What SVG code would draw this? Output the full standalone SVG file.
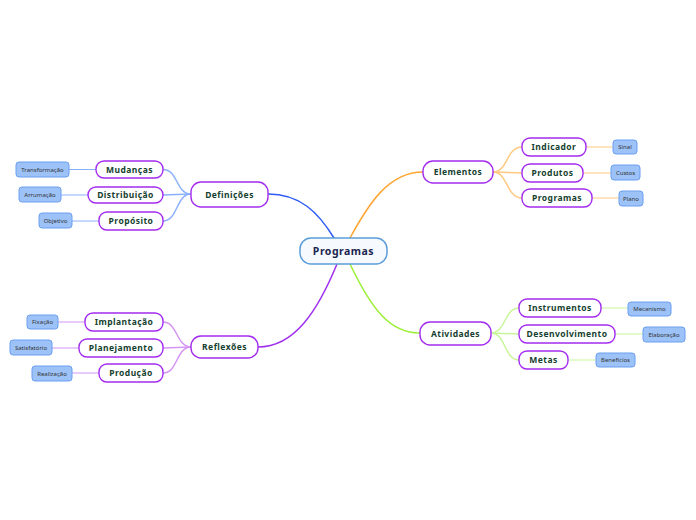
<svg xmlns="http://www.w3.org/2000/svg" width="696" height="520" viewBox="0 0 696 520">
<style>
.n rect{fill:#fff;stroke:#a32cf0;stroke-width:1.4}
.n text{font-family:"Noto Sans","Open Sans",sans-serif;font-weight:bold;font-size:8.5px;fill:#163f30;text-anchor:middle;letter-spacing:0.45px}
.l rect{fill:#9cc2f7;stroke:#6a9ff0;stroke-width:1}
.l text{font-family:"Noto Sans","Open Sans",sans-serif;font-size:6px;fill:#333;text-anchor:middle}
.c path{fill:none;stroke-width:1.5}
.c line{stroke-width:1}
</style>
<rect width="696" height="520" fill="#fff"/>
<g class="c" id="connectors">
<path d="M334,238 C318,212 300,194 268,194" stroke="#2d5cf5" stroke-width="1.8"/>
<path d="M350,238 C368,205 388,172 423,172" stroke="#ffa533" stroke-width="1.8"/>
<path d="M337,264 C318,310 295,347 258,347" stroke="#a02ff0" stroke-width="1.8"/>
<path d="M350,264 C372,310 390,333 420,333" stroke="#9af033" stroke-width="1.8"/>
<g stroke="#8ab0fb" stroke-width="1" fill="none">
<path d="M191,194 C176,194 178,169.5 163,169.5"/>
<path d="M191,194 L163,195"/>
<path d="M191,194 C176,194 178,221 163,221"/>
<line x1="96" y1="169.5" x2="69" y2="169.5"/>
<line x1="88" y1="195" x2="61" y2="195"/>
<line x1="99" y1="221" x2="72" y2="221"/>
</g>
<g stroke="#ffc980" stroke-width="1" fill="none">
<path d="M493,172 C508,172 506,147 522,147"/>
<path d="M493,172 L522,173"/>
<path d="M493,172 C508,172 506,198 522,198"/>
<line x1="586" y1="147" x2="613" y2="147"/>
<line x1="583" y1="173" x2="611" y2="173"/>
<line x1="592" y1="198" x2="619" y2="198"/>
</g>
<g stroke="#d595f5" stroke-width="1" fill="none">
<path d="M191,347 C176,347 178,322 163,322"/>
<path d="M191,347 L163,348"/>
<path d="M191,347 C176,347 178,373 163,373"/>
<line x1="85" y1="322" x2="58" y2="322"/>
<line x1="79" y1="348" x2="52" y2="348"/>
<line x1="99" y1="373" x2="72" y2="373"/>
</g>
<g stroke="#c8f59a" stroke-width="1" fill="none">
<path d="M491,333 C506,333 504,308 519,308"/>
<path d="M491,333 L519,334"/>
<path d="M491,333 C506,333 504,360 519,360"/>
<line x1="601" y1="308" x2="628" y2="308"/>
<line x1="615" y1="334" x2="643" y2="334"/>
<line x1="568" y1="360" x2="596" y2="360"/>
</g>
</g>
<g id="central">
<rect x="300" y="238" width="87" height="26" rx="11" fill="#f6faff" stroke="#5b9dd8" stroke-width="1.5"/>
<text x="343.5" y="254.5" font-family="'Noto Sans','Open Sans',sans-serif" font-weight="bold" font-size="10.5" fill="#1b2650" text-anchor="middle" letter-spacing="0.5">Programas</text>
</g>
<g class="n" id="definicoes"><rect x="191" y="182" width="77" height="25" rx="10"/><text x="229.5" y="197.5">Definições</text></g>
<g class="n" id="mudancas"><rect x="96" y="161" width="67" height="17" rx="8"/><text x="129.5" y="172.5">Mudanças</text></g>
<g class="n" id="distribuicao"><rect x="88" y="187" width="75" height="16" rx="8"/><text x="125.5" y="198">Distribuição</text></g>
<g class="n" id="proposito"><rect x="99" y="212" width="64" height="18" rx="8"/><text x="131" y="224">Propósito</text></g>
<g class="l" id="transformacao"><rect x="16" y="162" width="53" height="15" rx="3"/><text x="42.5" y="171.8">Transformação</text></g>
<g class="l" id="arrumacao"><rect x="19" y="187" width="42" height="15" rx="3"/><text x="40" y="196.8">Arrumação</text></g>
<g class="l" id="objetivo"><rect x="39" y="213" width="33" height="15" rx="3"/><text x="55.5" y="222.8">Objetivo</text></g>
<g class="n" id="elementos"><rect x="423" y="161" width="70" height="22" rx="10"/><text x="458" y="175">Elementos</text></g>
<g class="n" id="indicador"><rect x="522" y="138" width="64" height="18" rx="8"/><text x="554" y="150">Indicador</text></g>
<g class="n" id="produtos"><rect x="522" y="164" width="61" height="18" rx="8"/><text x="552.5" y="176">Produtos</text></g>
<g class="n" id="programas2"><rect x="522" y="189" width="70" height="18" rx="8"/><text x="557" y="201">Programas</text></g>
<g class="l" id="sinal"><rect x="613" y="140" width="24" height="14" rx="3"/><text x="625" y="149.3">Sinal</text></g>
<g class="l" id="custos"><rect x="611" y="165" width="29" height="15" rx="3"/><text x="625.5" y="174.8">Custos</text></g>
<g class="l" id="plano"><rect x="619" y="191" width="24" height="15" rx="3"/><text x="631" y="200.8">Plano</text></g>
<g class="n" id="reflexoes"><rect x="191" y="336" width="67" height="22" rx="10"/><text x="224.5" y="350">Reflexões</text></g>
<g class="n" id="implantacao"><rect x="85" y="313" width="78" height="18" rx="8"/><text x="124" y="325">Implantação</text></g>
<g class="n" id="planejamento"><rect x="79" y="339" width="84" height="18" rx="8"/><text x="121" y="351">Planejamento</text></g>
<g class="n" id="producao"><rect x="99" y="364" width="64" height="18" rx="8"/><text x="131" y="376">Produção</text></g>
<g class="l" id="fixacao"><rect x="27" y="315" width="31" height="14" rx="3"/><text x="42.5" y="324.3">Fixação</text></g>
<g class="l" id="satisfatorio"><rect x="10" y="340" width="42" height="15" rx="3"/><text x="31" y="349.8">Satisfatório</text></g>
<g class="l" id="realizacao"><rect x="32" y="366" width="40" height="15" rx="3"/><text x="52" y="375.8">Realização</text></g>
<g class="n" id="atividades"><rect x="420" y="322" width="71" height="23" rx="10"/><text x="455.5" y="336.5">Atividades</text></g>
<g class="n" id="instrumentos"><rect x="519" y="299" width="82" height="18" rx="8"/><text x="560" y="311">Instrumentos</text></g>
<g class="n" id="desenvolvimento"><rect x="519" y="325" width="96" height="18" rx="8"/><text x="567" y="337">Desenvolvimento</text></g>
<g class="n" id="metas"><rect x="519" y="351" width="49" height="18" rx="8"/><text x="543.5" y="363">Metas</text></g>
<g class="l" id="mecanismo"><rect x="628" y="302" width="43" height="14" rx="3"/><text x="649.5" y="311.3">Mecanismo</text></g>
<g class="l" id="elaboracao"><rect x="643" y="327" width="42" height="15" rx="3"/><text x="664" y="336.8">Elaboração</text></g>
<g class="l" id="beneficios"><rect x="596" y="353" width="39" height="14" rx="3"/><text x="615.5" y="362.3">Benefícios</text></g>
</svg>
